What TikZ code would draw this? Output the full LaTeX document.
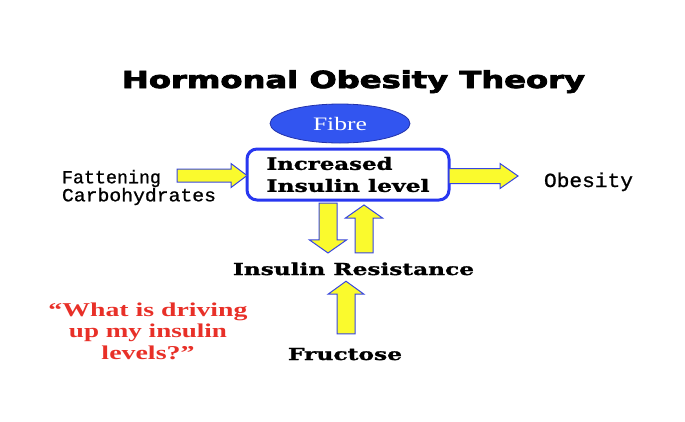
\documentclass[tikz,border=0pt]{standalone}
\usepackage{fontspec}
\usetikzlibrary{calc,shapes.geometric}
\newfontfamily\titlefont{DejaVu Sans Bold}[FakeBold=3]
\newfontfamily\slabfont{DejaVu Serif Bold}[FakeBold=1.2]
\newfontfamily\typefont{Liberation Mono}[FakeBold=1]
\newfontfamily\timesfont{Liberation Serif}
\newfontfamily\timesbold{Liberation Serif Bold}
\definecolor{arrowyellow}{RGB}{250,250,45}
\definecolor{arrowblue}{RGB}{55,70,225}
\definecolor{fibreblue}{RGB}{50,85,240}
\definecolor{fibreedge}{RGB}{35,50,170}
\definecolor{boxblue}{RGB}{40,55,240}
\definecolor{quotered}{RGB}{232,48,40}
\newcommand\fw[2]{\resizebox{#1pt}{\height}{#2}}
\tikzset{
  arrowsty/.style={fill=arrowyellow, draw=arrowblue, line width=1, line join=miter},
  plain/.style={inner sep=0, outer sep=0}
}
% block arrow: from, to, shaft half width, head half width, head length
\newcommand\blockarrow[5]{%
  \path ($(#2)!#5pt!(#1)$) coordinate (bahead);
  \draw[arrowsty] ($(#1)!#3pt!90:(#2)$) -- ($(bahead)!#3pt!90:(#2)$)
    -- ($(bahead)!#4pt!90:(#2)$) -- (#2) -- ($(bahead)!#4pt!-90:(#2)$)
    -- ($(bahead)!#3pt!-90:(#2)$) -- ($(#1)!#3pt!-90:(#2)$) -- cycle;}
\begin{document}
\begin{tikzpicture}[x=1pt,y=-1pt]
\useasboundingbox (0,0) rectangle (685,421);
\node[plain, anchor=base, font={\titlefont\fontsize{23.5}{26}\selectfont}] (title) at (353.5,88)
  {\fw{463}{Hormonal Obesity Theory}};
\node[ellipse, draw=fibreedge, fill=fibreblue, line width=0.8, minimum width=140,
  minimum height=39, inner sep=0, text=white, font={\timesfont\fontsize{19}{22}\selectfont}] (fibre) at (340,123.5)
  {\fw{54}{Fibre}};
\node[draw=boxblue, line width=3, rounded corners=10, minimum width=202,
  minimum height=51, inner sep=0, outer sep=0, fill=white, align=left,
  font={\slabfont\fontsize{17}{22}\selectfont}] (box) at (348,174.5)
  {\fw{126}{Increased}\\\fw{163}{Insulin level}};
\node[plain, anchor=west, align=left, font={\typefont\fontsize{18.5}{18}\selectfont}] (carbs) at (62,187.5)
  {\fw{99}{Fattening}\\\fw{154}{Carbohydrates}};
\node[plain, anchor=base west, font={\typefont\fontsize{20}{22}\selectfont}] (obesity) at (544,187)
  {\fw{89}{Obesity}};
\node[plain, anchor=base, font={\slabfont\fontsize{16.5}{20}\selectfont}] (resist) at (353.5,275)
  {\fw{241}{Insulin Resistance}};
\node[plain, anchor=base, font={\slabfont\fontsize{16.5}{20}\selectfont}] (fruct) at (345,360)
  {\fw{114}{Fructose}};
\node[plain, align=center, text=quotered, font={\timesbold\fontsize{19.6}{21.5}\selectfont}] (question) at (148,331)
  {\fw{199}{“What is driving}\\\fw{158}{up my insulin}\\\fw{93}{levels?”}};
% connector end points
\coordinate (inflow) at ($(box.west)+(-70,1)$);
\coordinate (intip) at ($(box.west)+(0,1)$);
\coordinate (outflow) at ($(box.east)+(0,1.5)$);
\coordinate (toobesity) at ($(obesity.base west)+(-26,-11)$);
\coordinate (dstart) at ($(box.south)+(-20,3)$);
\coordinate (dend) at ($(resist.north)+(-25.5,-9.5)$);
\coordinate (ustart) at ($(resist.north)+(10.5,-9.5)$);
\coordinate (uend) at ($(box.south)+(16,5)$);
\coordinate (fstart) at ($(fruct.north)+(1,-14)$);
\coordinate (fend) at ($(resist.south)+(-7.5,6)$);
\blockarrow{inflow}{intip}{6.5}{12}{16}
\blockarrow{outflow}{toobesity}{7.5}{12.5}{18}
\blockarrow{dstart}{dend}{9}{18.5}{13}
\blockarrow{ustart}{uend}{9}{18.5}{13}
\blockarrow{fstart}{fend}{9}{18}{13}
\end{tikzpicture}
\end{document}
